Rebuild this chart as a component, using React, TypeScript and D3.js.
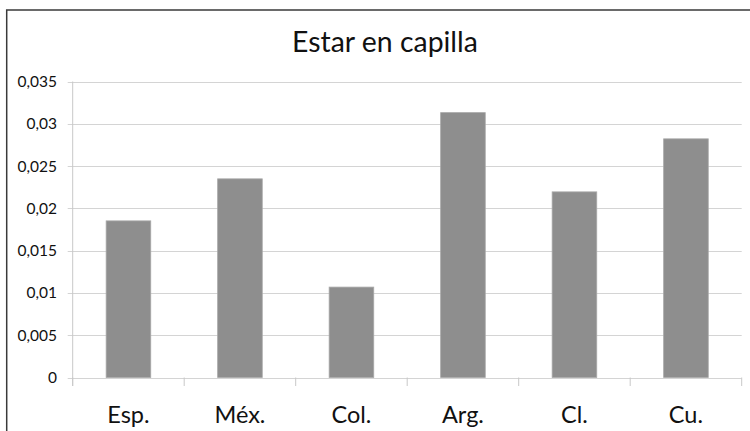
import React from "react";
import * as d3 from "d3";

const title = "Estar en capilla";
const categories = ["Esp.", "Méx.", "Col.", "Arg.", "Cl.", "Cu."];
const values = [0.01852, 0.02349, 0.01069, 0.03132, 0.02195, 0.02822];
const yTicks = [0, 0.005, 0.01, 0.015, 0.02, 0.025, 0.03, 0.035];
const yTickLabels = ["0", "0,005", "0,01", "0,015", "0,02", "0,025", "0,03", "0,035"];

const W = 750;
const H = 431;
const left = 72.7;
const right = 741.7;
const top = 81.5;
const bottom = 377.5;

export default function App() {
  const x = d3
    .scaleBand<string>()
    .domain(categories)
    .range([left, right])
    .paddingInner(0.6)
    .paddingOuter(0.3);
  const y = d3.scaleLinear().domain([0, 0.035]).range([bottom, top]);
  const step = x.step();
  const boundaries = d3.range(categories.length + 1).map((i) => left + i * step);
  const font = "Lato, 'Open Sans', sans-serif";

  return (
    <svg
      width={W}
      height={H}
      style={{ position: "absolute", left: 0, top: 0, display: "block", background: "#fff" }}
    >
      <rect x={0} y={0} width={W} height={H} fill="#fff" />
      <rect x={6.7} y={10} width={800} height={600} fill="none" stroke="#3a3a3a" strokeWidth={1.5} />
      <text x={385} y={51.7} textAnchor="middle" fontFamily={font} fontSize={28.4} fill="#111">
        {title}
      </text>
      {yTicks.map((t, i) => (
        <g key={"g" + i}>
          <line
            x1={left - 5}
            x2={right}
            y1={Math.round(y(t)) + 0.5}
            y2={Math.round(y(t)) + 0.5}
            stroke="#d4d4d4"
            strokeWidth={1}
          />
          <text
            x={57}
            y={y(t) + 5.5}
            textAnchor="end"
            fontFamily={font}
            fontSize={15.5}
            fill="#111"
          >
            {yTickLabels[i]}
          </text>
        </g>
      ))}
      <line x1={left} x2={left} y1={top} y2={bottom + 8.5} stroke="#c8c8c8" strokeWidth={1} />
      {boundaries.map((b, i) => (
        <line key={"t" + i} x1={b} x2={b} y1={bottom} y2={bottom + 8.5} stroke="#c8c8c8" strokeWidth={1} />
      ))}
      {categories.map((c, i) => (
        <rect
          key={c}
          x={x(c)!}
          y={y(values[i])}
          width={x.bandwidth()}
          height={bottom - y(values[i])}
          fill="#8e8e8e"
          stroke="#a8a8a8"
          strokeWidth={0.8}
        />
      ))}
      {categories.map((c) => (
        <text
          key={"l" + c}
          x={x(c)! + x.bandwidth() / 2}
          y={423.3}
          textAnchor="middle"
          fontFamily={font}
          fontSize={23.5}
          fill="#111"
        >
          {c}
        </text>
      ))}
    </svg>
  );
}
